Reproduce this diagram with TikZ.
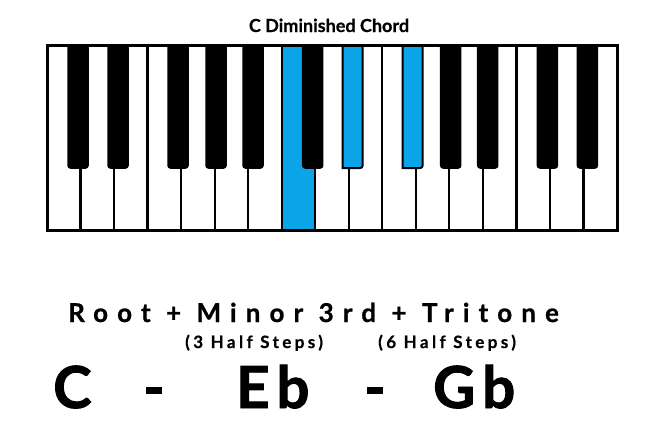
\documentclass[tikz,border=0pt]{standalone}
\usepackage{fontspec}
\setmainfont{Lato}
\newfontfamily\spacedfont[LetterSpace=35,FakeBold=0.8]{Lato}
\newfontfamily\smallspaced[LetterSpace=20,FakeBold=0.6]{Lato}
\newfontfamily\bigfont[FakeBold=1.6]{Lato}
\newfontfamily\titlefont[FakeBold=0.5]{Lato}
\definecolor{keyblue}{RGB}{12,164,232}
\tikzset{
  whitekey/.style={fill=white,draw=black,line width=2.2pt},
  bluewhite/.style={fill=keyblue,draw=black,line width=2.2pt},
  blackkey/.style={fill=black,draw=black,line width=1.5pt,rounded corners=2.5pt},
  blueblack/.style={fill=keyblue,draw=black,line width=2pt,rounded corners=2.5pt},
  frame/.style={draw=black,line width=3pt},
  label/.style={inner sep=0pt},
}
\begin{document}
\begin{tikzpicture}[x=1pt,y=-1pt]
\useasboundingbox (0,0) rectangle (656,440);
\fill[white] (0,0) rectangle (656,440);
% white keys
\foreach \i in {0,...,16}{
  \pgfmathsetmacro{\xa}{47+\i*33.53}
  \pgfmathsetmacro{\xb}{47+(\i+1)*33.53}
  \ifnum\i=7
    \draw[bluewhite] (\xa,45) rectangle (\xb,230);
  \else
    \draw[whitekey] (\xa,45) rectangle (\xb,230);
  \fi
}
% black keys
\foreach \o in {0,1,2}{
  \foreach \off [count=\k] in {21,61,121,159,196}{
    \pgfmathsetmacro{\xa}{47+\o*234.71+\off}
    \pgfmathsetmacro{\xb}{\xa+20}
    \pgfmathtruncatemacro{\idx}{\o*5+\k}
    \ifnum\idx<13
      \ifnum\idx=7
        \draw[blueblack,sharp corners] (\xa,45) -- (\xa,168) [rounded corners=2.5pt] -- (\xb,168) -- (\xb,45);
      \else\ifnum\idx=8
        \draw[blueblack,sharp corners] (\xa,45) -- (\xa,168) [rounded corners=2.5pt] -- (\xb,168) -- (\xb,45);
      \else
        \draw[blackkey] (\xa,45) -- (\xa,168) -- (\xb,168) -- (\xb,45) [sharp corners] -- cycle;
      \fi\fi
    \fi
  }
}
\draw[frame] (47,45) rectangle (617,230);
% texts
\node[label,anchor=base,font=\titlefont\bfseries\fontsize{18}{20}\selectfont] (title) at (329,32) {C Diminished Chord};
\node[label,anchor=base west] (formula) at (68,322) {\fontsize{26}{28}\selectfont\spacedfont\bfseries Root + Minor 3rd + Tritone};
\node[label,anchor=base west] (third) at (185,348) {\fontsize{17}{18}\selectfont\smallspaced\bfseries (3 Half Steps)};
\node[label,anchor=base west] (tritone) at (378,348) {\fontsize{17}{18}\selectfont\smallspaced\bfseries (6 Half Steps)};
\node[label,anchor=base west,font=\bigfont\bfseries\fontsize{58}{60}\selectfont] (nc) at (53,408) {C};
\node[label,anchor=base west,font=\bigfont\bfseries\fontsize{58}{60}\selectfont] (d1) at (143,408) {-};
\node[label,anchor=base west,font=\bigfont\bfseries\fontsize{58}{60}\selectfont] (neb) at (236,408) {E\kern7pt b};
\node[label,anchor=base west,font=\bigfont\bfseries\fontsize{58}{60}\selectfont] (d2) at (364,408) {-};
\node[label,anchor=base west,font=\bigfont\bfseries\fontsize{58}{60}\selectfont] (ngb) at (433,408) {G\kern7pt b};
\end{tikzpicture}
\end{document}
